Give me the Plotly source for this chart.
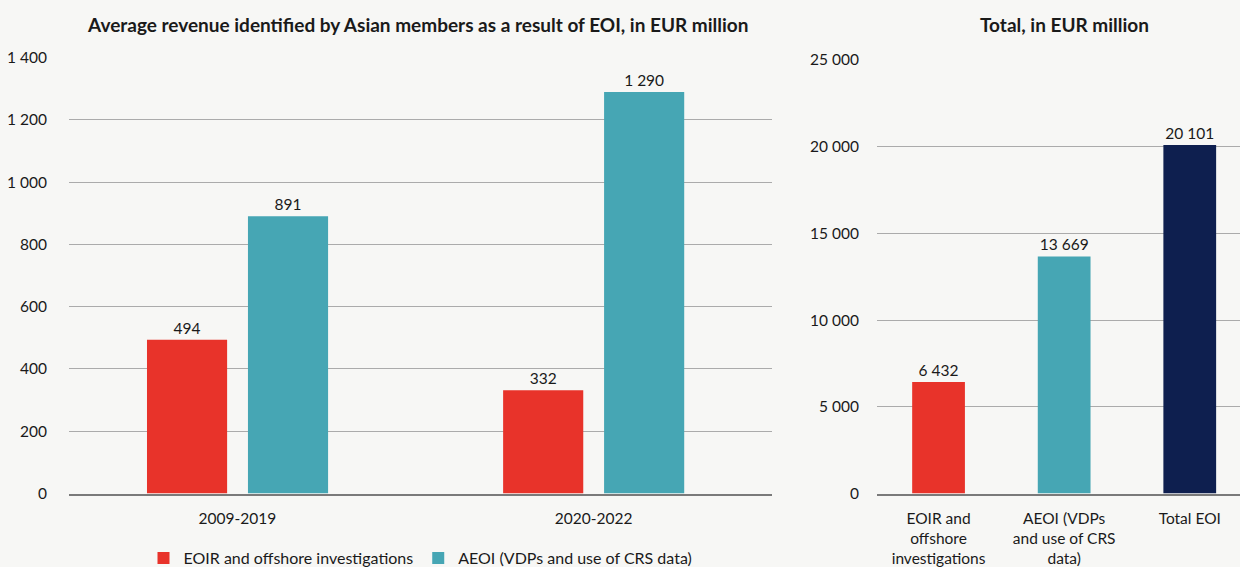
import plotly.graph_objects as go

# Average revenue by period (EUR million)
periods = ["2009-2019", "2020-2022"]
eoir_avg = [494, 332]
aeoi_avg = [891, 1290]

# Totals (EUR million)
total_cats = ["EOIR and<br>offshore<br>investigations", "AEOI (VDPs<br>and use of CRS<br>data)", "Total EOI"]
total_vals = [6432, 13669, 20101]

series_names = ["EOIR and offshore investigations", "AEOI (VDPs and use of CRS data)"]
left_title = "Average revenue identified by Asian members as a result of EOI, in EUR million"
right_title = "Total, in EUR million"

RED = "#e8332a"
TEAL = "#46a6b4"
NAVY = "#0e1f4f"
BG = "#f7f7f5"
FONT = "Lato, 'Open Sans', sans-serif"
TXT = "#1a1a1a"

W, H = 1240, 567

fig = go.Figure()

fig.add_trace(go.Bar(
    x=periods, y=eoir_avg, name=series_names[0],
    marker=dict(color=RED, line=dict(width=0)),
    width=0.225, offset=-0.254,
    texttemplate="%{y:,}", textposition="outside", cliponaxis=False,
    textfont=dict(size=15.5, color=TXT, family=FONT),
    xaxis="x", yaxis="y",
))
fig.add_trace(go.Bar(
    x=periods, y=aeoi_avg, name=series_names[1],
    marker=dict(color=TEAL, line=dict(width=0)),
    width=0.225, offset=0.0295,
    texttemplate="%{y:,}", textposition="outside", cliponaxis=False,
    textfont=dict(size=15.5, color=TXT, family=FONT),
    xaxis="x", yaxis="y",
))
fig.add_trace(go.Bar(
    x=total_cats, y=total_vals, showlegend=False,
    marker=dict(color=[RED, TEAL, NAVY], line=dict(width=0)),
    width=0.42,
    texttemplate="%{y:,}", textposition="outside", cliponaxis=False,
    textfont=dict(size=15.5, color=TXT, family=FONT),
    xaxis="x2", yaxis="y2",
))

y0, y_left_top, y_right_top = 493.5, 57.7, 60.0
left_dom = [69 / W, 772 / W]
right_dom = [877 / W, 1.0]

common_y = dict(
    showgrid=True, gridcolor="#ababab", gridwidth=1,
    zeroline=False, showline=False, ticks="", tickformat=",",
    automargin=False,
    tickfont=dict(size=15.5, color=TXT, family=FONT),
)
common_x = dict(
    type="category", showgrid=False, zeroline=False,
    showline=True, linecolor="#7a7a7a", linewidth=2,
    ticks="", automargin=False, ticklabelstandoff=10,
    tickfont=dict(size=15.5, color=TXT, family=FONT),
)

fig.update_layout(
    width=W, height=H,
    margin=dict(l=0, r=0, t=0, b=0, autoexpand=False),
    paper_bgcolor=BG, plot_bgcolor=BG,
    font=dict(family=FONT, size=15.5, color=TXT),
    separators=". ",
    barmode="overlay",
    showlegend=True,
    legend=dict(
        orientation="h", x=420.5 / W, xanchor="center",
        y=1 - 558 / H, yanchor="middle",
        font=dict(size=16, color=TXT, family=FONT),
        bgcolor="rgba(0,0,0,0)", traceorder="normal",
    ),
    xaxis=dict(common_x, domain=left_dom, anchor="y", range=[-0.473, 1.501]),
    yaxis=dict(common_y, anchor="x", range=[0, 1400], dtick=200,
               domain=[1 - y0 / H, 1 - y_left_top / H], ticklabelstandoff=21),
    xaxis2=dict(common_x, domain=right_dom, anchor="y2", range=[-0.49, 2.40]),
    yaxis2=dict(common_y, anchor="x2", range=[0, 25000], dtick=5000,
                domain=[1 - y0 / H, 1 - y_right_top / H], ticklabelstandoff=17),
    annotations=[
        dict(text="<b>" + left_title + "</b>", x=418 / W, y=1 - 24 / H,
             xref="paper", yref="paper", xanchor="center", yanchor="middle",
             showarrow=False, font=dict(size=19, color=TXT, family=FONT)),
        dict(text="<b>" + right_title + "</b>", x=1064 / W, y=1 - 24 / H,
             xref="paper", yref="paper", xanchor="center", yanchor="middle",
             showarrow=False, font=dict(size=19, color=TXT, family=FONT)),
    ],
)

fig.write_html("out.html")
